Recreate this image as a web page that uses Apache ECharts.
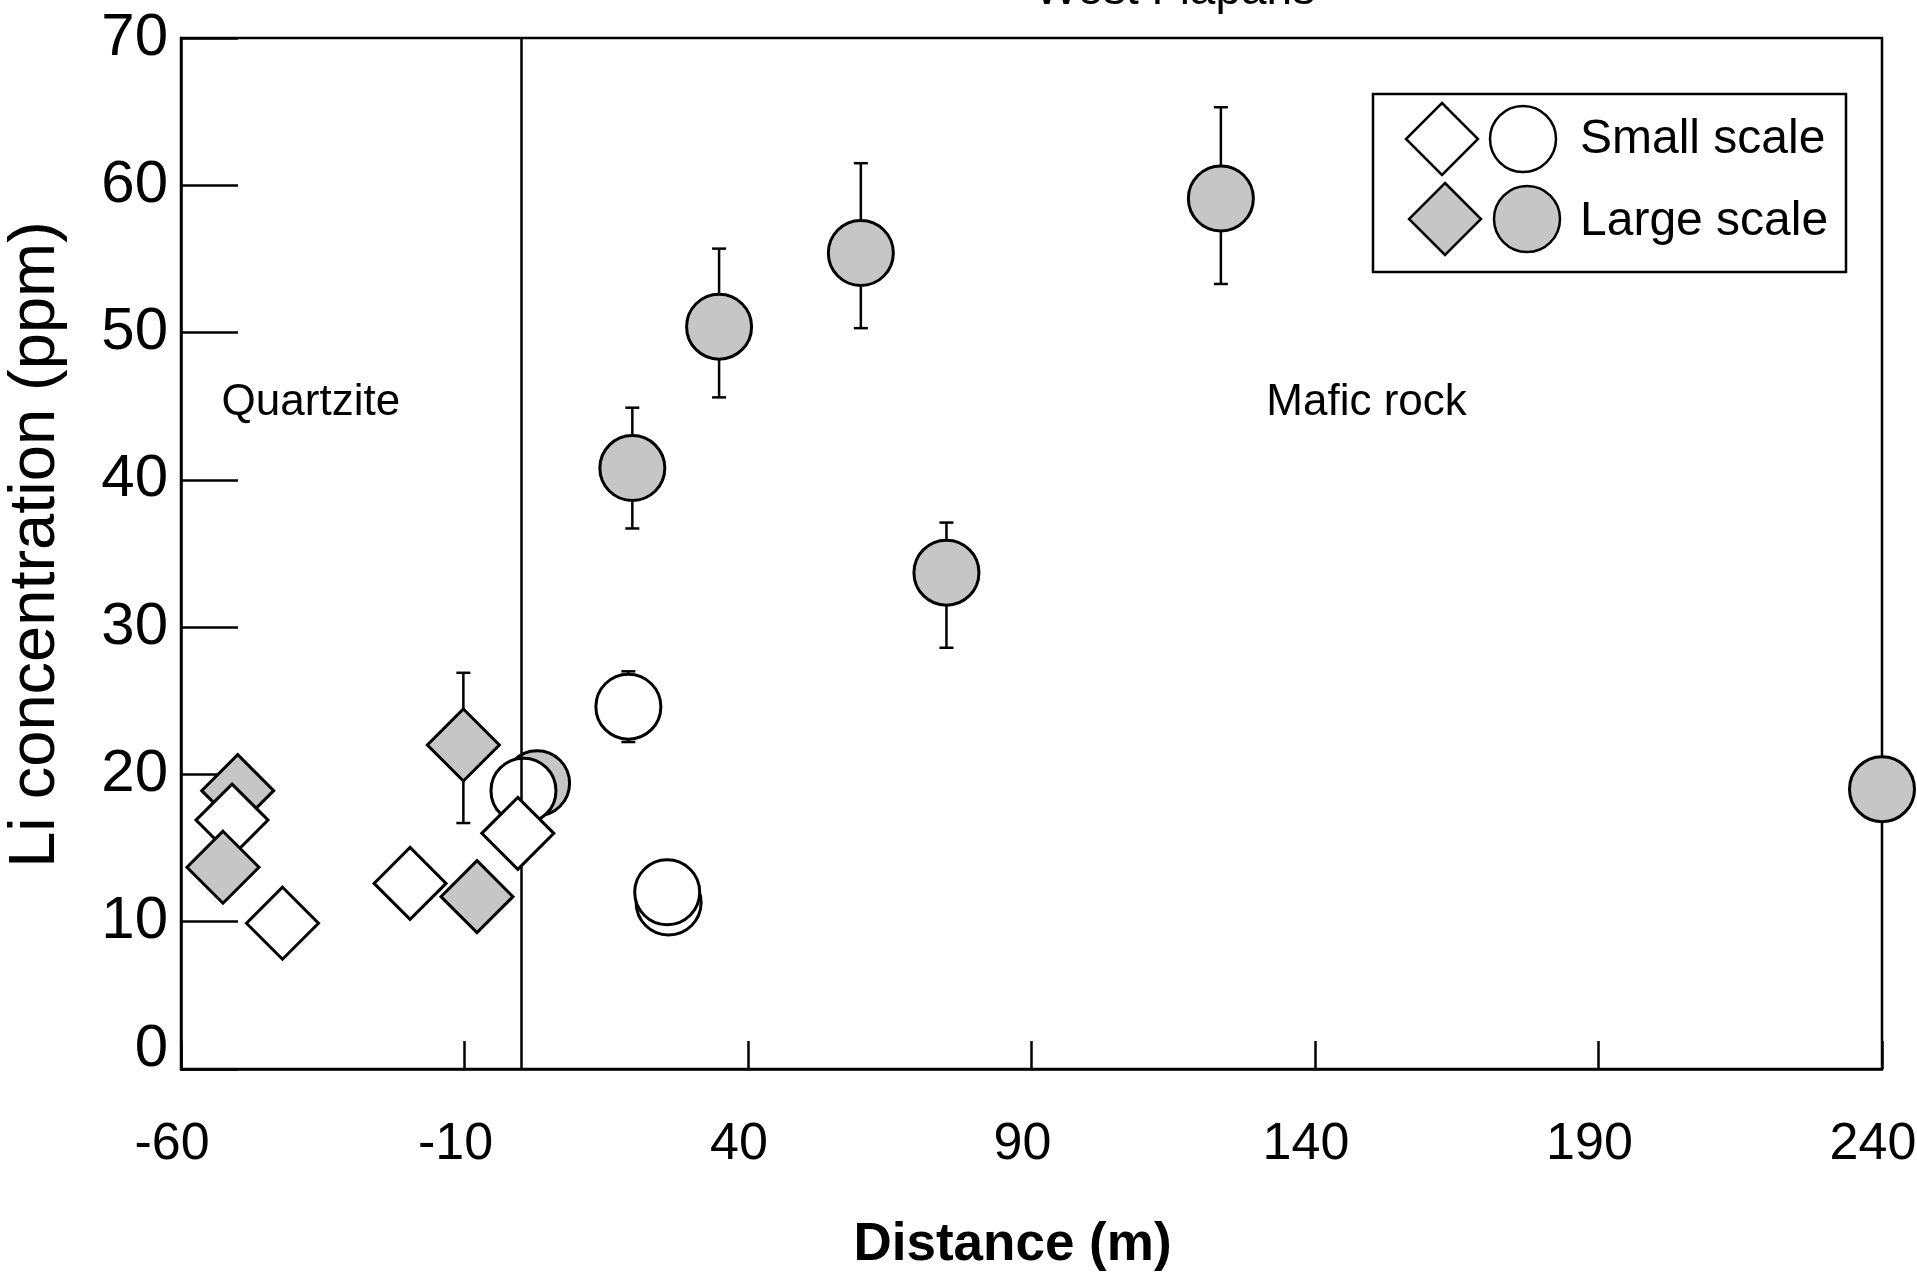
<!DOCTYPE html>
<html>
<head>
<meta charset="utf-8">
<title>Li concentration vs distance</title>
<script src="https://cdn.jsdelivr.net/npm/echarts@6/dist/echarts.min.js"></script>
<style>
  html, body { margin: 0; padding: 0; background: #fff; }
  #chart { width: 1917px; height: 1278px; }
</style>
</head>
<body>
<div id="chart"></div>
<script>
// values: [distance (m), Li (ppm)]
const smallDiamonds = [[-51.0, 16.9], [-42.1, 9.9], [-19.6, 12.6], [-0.6, 16.0]];
const largeDiamondsBack = [[-50.0, 18.9], [-10.2, 22.0]];
const largeDiamondsFront = [[-52.6, 13.7], [-7.8, 11.7]];
const smallCircles = [[0.4, 18.9], [18.9, 24.6], [26.0, 11.3], [25.75, 12.0]];
const largeCircles = [[2.8, 19.4], [19.6, 40.8], [34.9, 50.4], [59.9, 55.4], [75.0, 33.7], [123.4, 59.1], [240, 19.0]];

// error bars: [distance, low, high]
const errorBars = [
  [19.6, 36.7, 44.9],
  [34.9, 45.6, 55.7],
  [59.9, 50.3, 61.5],
  [75.0, 28.6, 37.1],
  [123.4, 53.3, 65.3],
  [18.9, 22.2, 27.0],
  [-10.2, 16.7, 26.9]
];

const contactAt = 0; // quartzite / mafic rock boundary
const regionNames = ['Quartzite', 'Mafic rock'];
const regionX = [-37.1, 149.1];
const regionY = [45.2, 45.2];

const FONT = '"Liberation Sans", Arial, Helvetica, sans-serif';
const GRAY = '#c6c6c6';

const chart = echarts.init(document.getElementById('chart'));

const pointStyle = (fill) => ({ color: fill, borderColor: '#000', borderWidth: 3, opacity: 1 });

const diamondSeries = (data, fill, z) => ({
  type: 'scatter', data: data, symbol: 'diamond', symbolSize: 72,
  itemStyle: pointStyle(fill), z: z, silent: true
});
const circleSeries = (data, fill, z) => ({
  type: 'scatter', data: data, symbol: 'circle', symbolSize: 65,
  itemStyle: pointStyle(fill), z: z, silent: true
});

// legend box drawn by hand (two symbols per row)
const lg = { x: 1373, y: 94, w: 473, h: 178 };
const diamondPts = (cx, cy, r) => [[cx, cy - r], [cx + r, cy], [cx, cy + r], [cx - r, cy]];
const legendGraphics = [
  { type: 'rect', shape: { x: lg.x, y: lg.y, width: lg.w, height: lg.h },
    style: { fill: '#fff', stroke: '#000', lineWidth: 2.5 }, z: 50 },
  { type: 'polygon', shape: { points: diamondPts(1442, 139, 36) },
    style: { fill: '#fff', stroke: '#000', lineWidth: 2.5 }, z: 51 },
  { type: 'circle', shape: { cx: 1523, cy: 139, r: 33 },
    style: { fill: '#fff', stroke: '#000', lineWidth: 2.5 }, z: 51 },
  { type: 'polygon', shape: { points: diamondPts(1445, 219, 36) },
    style: { fill: GRAY, stroke: '#000', lineWidth: 2.5 }, z: 51 },
  { type: 'circle', shape: { cx: 1527, cy: 219, r: 33 },
    style: { fill: GRAY, stroke: '#000', lineWidth: 2.5 }, z: 51 },
  { type: 'text', x: 1580, y: 140, z: 51,
    style: { text: 'Small scale', font: '48px ' + FONT, fill: '#000', verticalAlign: 'middle' } },
  { type: 'text', x: 1580, y: 222, z: 51,
    style: { text: 'Large scale', font: '48px ' + FONT, fill: '#000', verticalAlign: 'middle' } },
  // panel title, cut off at the top edge in the source figure
  { type: 'text', x: 1175, y: 14, z: 51,
    style: { text: 'West Fiapans', font: '46px ' + FONT, fill: '#000', align: 'center', verticalAlign: 'bottom' } }
];

const options = {
  animation: false,
  backgroundColor: '#fff',
  textStyle: { fontFamily: FONT, color: '#000' },
  grid: {
    left: 181, right: 35, top: 38, bottom: 209,
    outerBoundsMode: 'none', containLabel: false,
    show: true, borderColor: '#000', borderWidth: 2.5, backgroundColor: 'transparent'
  },
  xAxis: {
    type: 'value', min: -60, max: 240, interval: 50,
    name: 'Distance (m)', nameLocation: 'middle', nameGap: 150,
    nameTextStyle: { fontSize: 53, fontWeight: 'bold', color: '#000', fontFamily: FONT, padding: [0, 38, 0, 0] },
    axisLine: { show: true, onZero: false, lineStyle: { color: '#000', width: 2.5 } },
    axisTick: { show: true, inside: true, length: 28, lineStyle: { color: '#000', width: 2.5 } },
    axisLabel: { fontSize: 52, color: '#000', margin: 50, fontFamily: FONT, padding: [0, 18, 0, 0] },
    splitLine: { show: false }
  },
  yAxis: {
    type: 'value', min: 0, max: 70, interval: 10,
    name: 'Li concentration (ppm)', nameLocation: 'middle', nameGap: 112, nameRotate: 90,
    nameTextStyle: { fontSize: 65, color: '#000', fontFamily: FONT, padding: [0, 0, 0, 18] },
    axisLine: { show: true, onZero: false, lineStyle: { color: '#000', width: 2.5 } },
    axisTick: { show: true, inside: true, length: 57, lineStyle: { color: '#000', width: 2.5 } },
    axisLabel: {
      fontSize: 60, color: '#000', margin: 13, fontFamily: FONT,
      formatter: (v) => (v === 0 ? '{z|0}' : String(v)),
      rich: { z: { fontSize: 60, fontFamily: FONT, color: '#000', padding: [0, 0, 40, 0] } }
    },
    splitLine: { show: false }
  },
  graphic: legendGraphics,
  series: [
    {
      // contact line + error bars, under the symbols
      type: 'custom', z: 1, silent: true,
      data: errorBars,
      encode: { x: 0, y: [1, 2] },
      renderItem: (params, api) => {
        const x = api.value(0);
        const top = api.coord([x, api.value(2)]);
        const bot = api.coord([x, api.value(1)]);
        const half = 7;
        const st = { stroke: '#000', lineWidth: 2.5 };
        return {
          type: 'group',
          children: [
            { type: 'line', shape: { x1: top[0], y1: top[1], x2: bot[0], y2: bot[1] }, style: st },
            { type: 'line', shape: { x1: top[0] - half, y1: top[1], x2: top[0] + half, y2: top[1] }, style: st },
            { type: 'line', shape: { x1: bot[0] - half, y1: bot[1], x2: bot[0] + half, y2: bot[1] }, style: st }
          ]
        };
      },
      markLine: {
        silent: true, symbol: 'none', label: { show: false },
        lineStyle: { color: '#000', width: 2.5, type: 'solid' },
        data: [{ xAxis: contactAt }]
      }
    },
    {
      type: 'scatter', z: 2, silent: true, symbolSize: 0,
      itemStyle: { opacity: 1 },
      data: regionNames.map((n, i) => ({ name: n, value: [regionX[i], regionY[i]] })),
      label: {
        show: true, position: 'inside', formatter: '{b}',
        fontSize: 44, color: '#000', opacity: 1, fontFamily: FONT
      }
    },
    circleSeries(largeCircles, GRAY, 3),
    circleSeries(smallCircles, '#fff', 4),
    diamondSeries(largeDiamondsBack, GRAY, 5),
    diamondSeries(smallDiamonds, '#fff', 6),
    diamondSeries(largeDiamondsFront, GRAY, 7)
  ]
};

chart.setOption(options);
</script>
</body>
</html>
